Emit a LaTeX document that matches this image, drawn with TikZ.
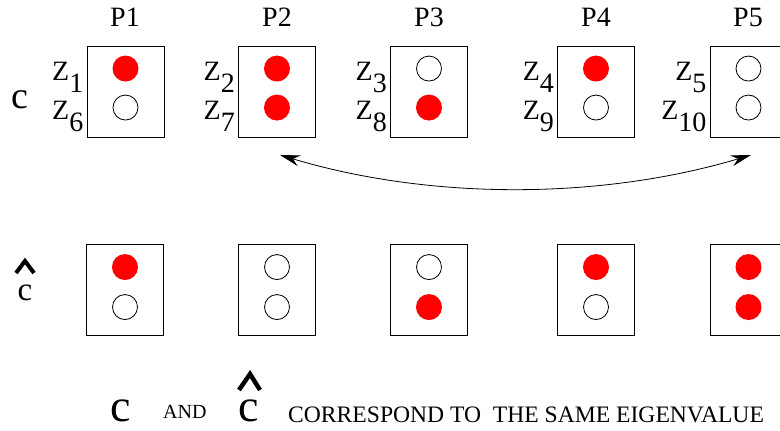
\documentclass[tikz,border=0pt]{standalone}
\usepackage{fontspec}
\setmainfont{Liberation Serif}
\usetikzlibrary{arrows.meta,positioning}

\begin{document}
\begin{tikzpicture}[
  x=1pt,y=-1pt,
  slot/.style={draw=black,line width=0.9pt,minimum width=77pt,minimum height=91pt,inner sep=0pt},
  on/.style={circle,fill=red,minimum size=26pt,inner sep=0pt},
  off/.style={circle,draw=black,line width=0.8pt,fill=white,minimum size=25pt,inner sep=0pt},
  plab/.style={font=\fontsize{28}{28}\selectfont,anchor=base,inner sep=0pt},
  zlab/.style={font=\fontsize{28}{28}\selectfont,anchor=base east,inner sep=0pt,xshift=-3pt,yshift=-12pt},
  cbig/.style={anchor=base,inner sep=0pt},
  note/.style={anchor=base west,inner sep=0pt},
  hat/.style={line width=4pt,line join=miter},
  arr/.style={{Stealth[length=20pt,width=11pt]}-{Stealth[length=20pt,width=11pt]},line width=0.8pt}
]
\useasboundingbox (0,0) rectangle (780,431);

% processor labels
\node[plab] (t1) at (125,27) {P1};
\node[plab] (t2) at (277,27) {P2};
\node[plab] (t3) at (429,27) {P3};
\node[plab] (t4) at (596,27) {P4};
\node[plab] (t5) at (748,27) {P5};

% top row: c
\node[cbig,font=\fontsize{38}{38}\selectfont] (c1) at (20,108) {c};
\node[slot] (p1) at (125.5,91.5) {};
\node[slot] (p2) at (277,91.5) {};
\node[slot] (p3) at (429,91.5) {};
\node[slot] (p4) at (596,91.5) {};
\node[slot] (p5) at (748.5,91.5) {};
\node[on]  (p1a) at ([yshift=-23pt]p1.north) {};
\node[off] (p1b) at ([yshift=-62pt]p1.north) {};
\node[on]  (p2a) at ([yshift=-23pt]p2.north) {};
\node[on]  (p2b) at ([yshift=-62pt]p2.north) {};
\node[off] (p3a) at ([yshift=-23pt]p3.north) {};
\node[on]  (p3b) at ([yshift=-62pt]p3.north) {};
\node[on]  (p4a) at ([yshift=-23pt]p4.north) {};
\node[off] (p4b) at ([yshift=-62pt]p4.north) {};
\node[off] (p5a) at ([yshift=-23pt]p5.north) {};
\node[off] (p5b) at ([yshift=-62pt]p5.north) {};
\node[zlab] (z1) at (p1a -| p1.west) {Z\raisebox{-0.42em}{1}};
\node[zlab] (z6) at (p1b -| p1.west) {Z\raisebox{-0.42em}{6}};
\node[zlab] (z2) at (p2a -| p2.west) {Z\raisebox{-0.42em}{2}};
\node[zlab] (z7) at (p2b -| p2.west) {Z\raisebox{-0.42em}{7}};
\node[zlab] (z3) at (p3a -| p3.west) {Z\raisebox{-0.42em}{3}};
\node[zlab] (z8) at (p3b -| p3.west) {Z\raisebox{-0.42em}{8}};
\node[zlab] (z4) at (p4a -| p4.west) {Z\raisebox{-0.42em}{4}};
\node[zlab] (z9) at (p4b -| p4.west) {Z\raisebox{-0.42em}{9}};
\node[zlab] (z5) at (p5a -| p5.west) {Z\raisebox{-0.42em}{5}};
\node[zlab] (z10) at (p5b -| p5.west) {Z\raisebox{-0.42em}{10}};

% swap between P2 and P5
\coordinate (swapL) at (280,155);
\coordinate (swapR) at (751,155);
\draw[arr] (swapL) .. controls (430,200) and (600,200) .. (swapR);

% bottom row: c hat
\node[cbig,font=\fontsize{33}{33}\selectfont] (ch1) at (25,300) {c};
\draw[hat] ([shift={(-9,-27)}]ch1.base) -- ([shift={(0,-39)}]ch1.base) -- ([shift={(9,-27)}]ch1.base);
\node[slot] (q1) at (125,290) {};
\node[slot] (q2) at (277,290) {};
\node[slot] (q3) at (429,290) {};
\node[slot] (q4) at (596,290) {};
\node[slot] (q5) at (748.5,290) {};
\node[on]  (q1a) at ([yshift=-23pt]q1.north) {};
\node[off] (q1b) at ([yshift=-63pt]q1.north) {};
\node[off] (q2a) at ([yshift=-23pt]q2.north) {};
\node[off] (q2b) at ([yshift=-63pt]q2.north) {};
\node[off] (q3a) at ([yshift=-23pt]q3.north) {};
\node[on]  (q3b) at ([yshift=-63pt]q3.north) {};
\node[on]  (q4a) at ([yshift=-23pt]q4.north) {};
\node[off] (q4b) at ([yshift=-63pt]q4.north) {};
\node[on]  (q5a) at ([yshift=-23pt]q5.north) {};
\node[on]  (q5b) at ([yshift=-63pt]q5.north) {};

% caption line
\node[cbig,font=\fontsize{46}{46}\selectfont] (c2) at (121,421) {c};
\node[note,font=\fontsize{20}{20}\selectfont] (andw) at (163,418) {AND};
\node[cbig,font=\fontsize{46}{46}\selectfont] (ch2) at (249,421) {c};
\draw[hat,line width=4.4pt] ([shift={(-10,-31)}]ch2.base) -- ([shift={(1,-47)}]ch2.base) -- ([shift={(11,-31)}]ch2.base);
\node[note,font=\fontsize{23.6}{23.6}\selectfont] (claim) at (288,422) {CORRESPOND TO\ \ THE SAME EIGENVALUE};
\end{tikzpicture}
\end{document}
